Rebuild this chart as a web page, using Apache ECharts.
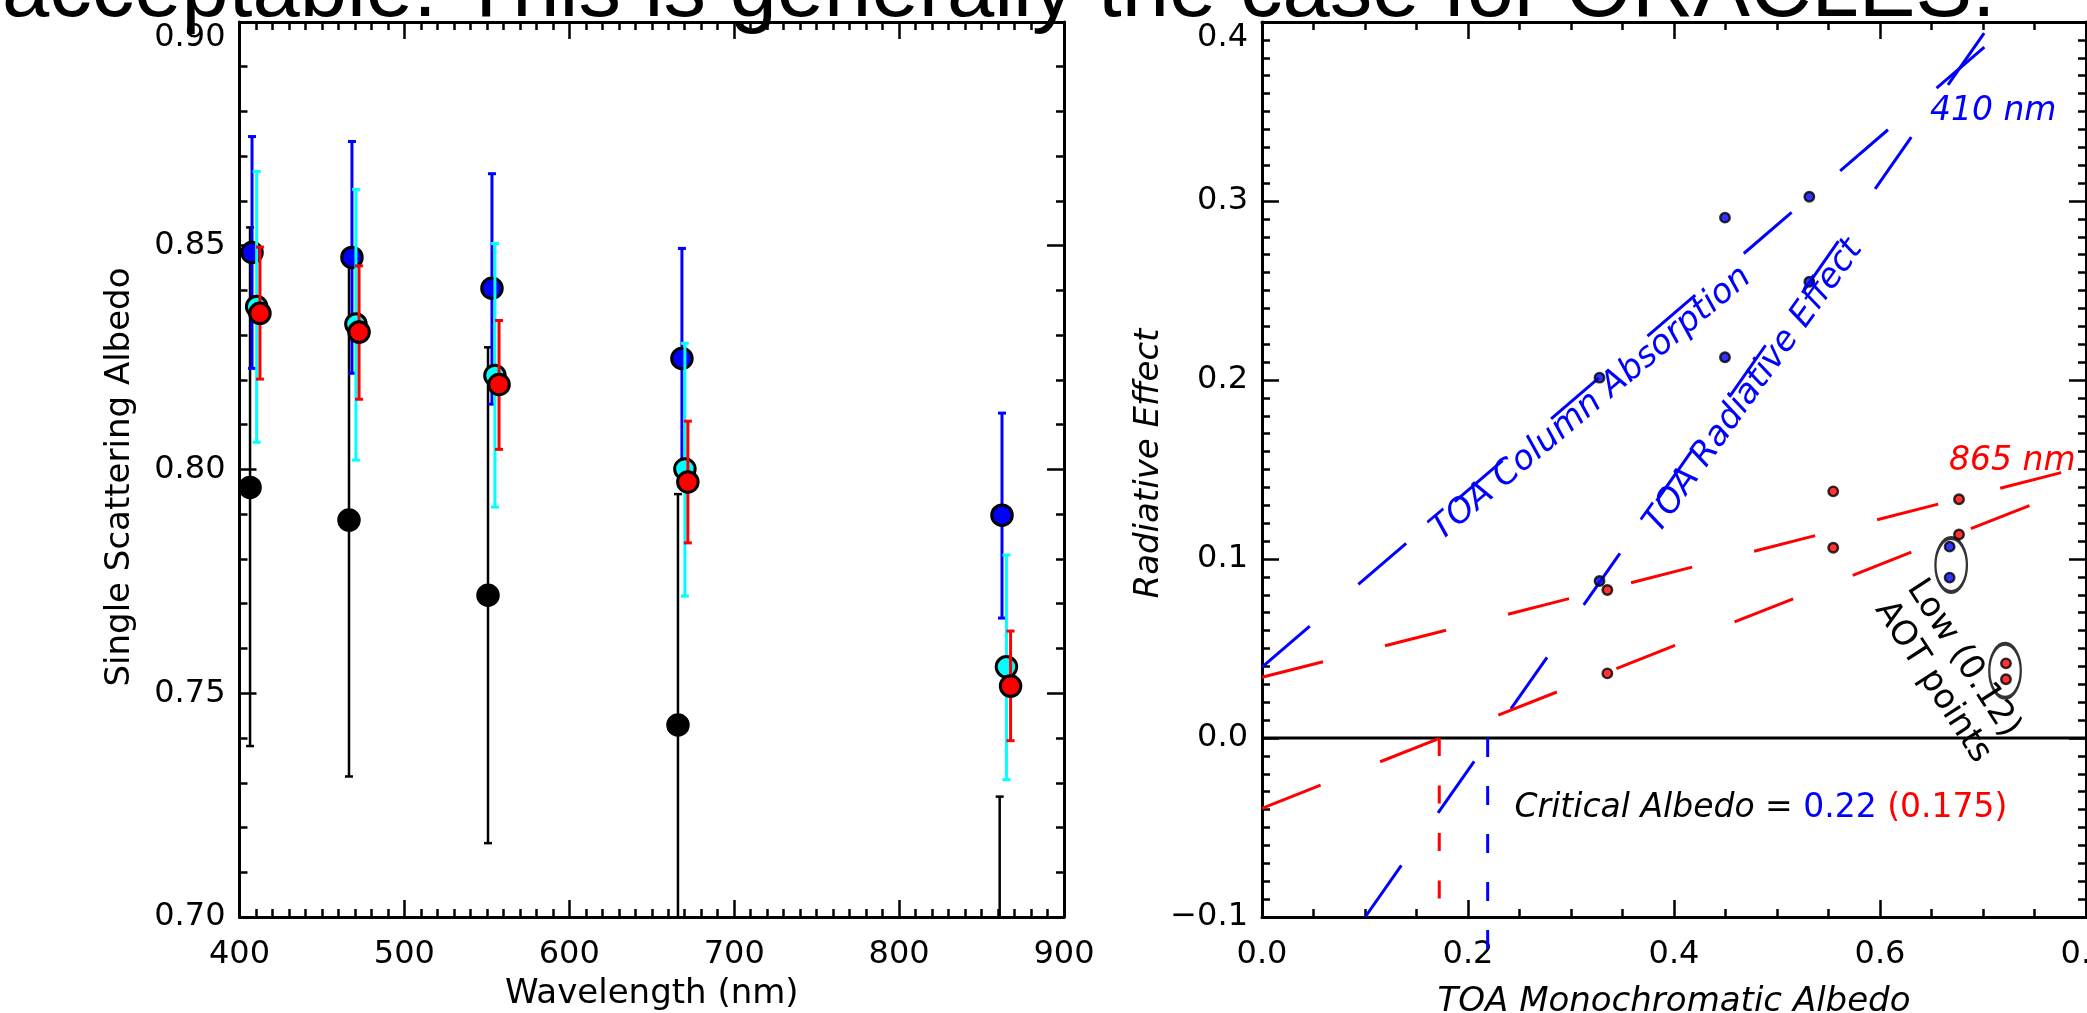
<!DOCTYPE html>
<html><head><meta charset="utf-8">
<script src="https://cdn.jsdelivr.net/npm/echarts@6/dist/echarts.min.js"></script>
<style>html,body{margin:0;padding:0;background:#fff;overflow:hidden}#c{width:2087px;height:1013px}</style>
</head><body><div id="c"></div>
<script>
// ---------- Left panel: single scattering albedo vs wavelength ----------
const wlBlack = [406.4, 466.4, 550.7, 665.9, 861.0];
const wlBlue  = [407.6, 468.2, 553.1, 668.3, 862.4];
const wlCyan  = [410.4, 470.6, 554.9, 670.1, 865.1];
const wlRed   = [412.4, 472.5, 557.4, 671.9, 867.6];
const ssaBlack   = [0.7960, 0.7887, 0.7719, 0.7429, 0.671];
const ssaBlackLo = [0.7382, 0.7314, 0.7165, 0.691, 0.615];
const ssaBlackHi = [0.8541, 0.8460, 0.8273, 0.7945, 0.7269];
const ssaBlue    = [0.8485, 0.8474, 0.8405, 0.8248, 0.7898];
const ssaBlueLo  = [0.8226, 0.8215, 0.8146, 0.8002, 0.7668];
const ssaBlueHi  = [0.8744, 0.8733, 0.8661, 0.8494, 0.8126];
const ssaCyan    = [0.8364, 0.8325, 0.8210, 0.8001, 0.7559];
const ssaCyanLo  = [0.8061, 0.8021, 0.7916, 0.7717, 0.7307];
const ssaCyanHi  = [0.8666, 0.8626, 0.8505, 0.8282, 0.7809];
const ssaRed     = [0.8349, 0.8307, 0.8190, 0.7972, 0.7516];
const ssaRedLo   = [0.8202, 0.8157, 0.8045, 0.7836, 0.7394];
const ssaRedHi   = [0.8497, 0.8455, 0.8333, 0.8108, 0.7639];

// ---------- Right panel: radiative effect vs TOA albedo ----------
const albBlue = [0.3277, 0.4495, 0.4495, 0.5314, 0.5314, 0.3277, 0.6676, 0.6676];
const reBlue  = [0.2013, 0.2907, 0.2127, 0.3024, 0.2549, 0.0877, 0.1069, 0.0896];
const albRed  = [0.3353, 0.3353, 0.5546, 0.5546, 0.6767, 0.6767, 0.7223, 0.7223];
const reRed   = [0.0827, 0.0361, 0.1378, 0.1063, 0.1334, 0.1137, 0.0417, 0.0328];
const fitBlueAbsorption = [[0, 0.0396], [0.7037, 0.3872]];
const fitBlueRadEffect  = [[0.1002, -0.1], [0.7037, 0.3959]];
const fitRedAbsorption  = [[0, 0.0339], [0.8, 0.1518]];
const fitRedRadEffect   = [[0, -0.0393], [0.8, 0.1423]];
const criticalBlue = [[0.2191, 0], [0.2191, -0.1202]];
const criticalRed  = [[0.1721, 0], [0.1721, -0.1]];
const zeroLine = [[0, 0], [0.8, 0]];
const lowAotGroups = [[0.6691, 0.0966], [0.7214, 0.0376]];

const xTicksLeft = [400, 500, 600, 700, 800, 900];
const yTicksLeft = [0.70, 0.75, 0.80, 0.85, 0.90];
const xTicksRight = [0.0, 0.2, 0.4, 0.6, 0.8];
const yTicksRight = [-0.1, 0.0, 0.1, 0.2, 0.3, 0.4];

const FONT = 'DejaVu Sans';
const BLUE = '#0000ff', CYAN = '#00ffff', RED = '#ff0000', BLACK = '#000000';

const chart = echarts.init(document.getElementById('c'), null, {renderer: 'canvas'});

const tickStyle = {color: '#000', width: 2.5};
function mkAxis(kind, grid, pos, ticks, minorSplit, fmt, name, nameGap, nameStyle) {
  const a = {
    gridIndex: grid, type: 'value', position: pos,
    min: ticks[0], max: ticks[ticks.length - 1], interval: ticks[1] - ticks[0],
    axisLine: {show: true, onZero: false, lineStyle: {color: '#000', width: 3}},
    axisTick: {show: true, inside: true, length: 17, lineStyle: tickStyle},
    minorTick: {show: true, splitNumber: minorSplit, length: 8, lineStyle: tickStyle},
    splitLine: {show: false}, minorSplitLine: {show: false},
    axisLabel: {show: false}
  };
  if (fmt) {
    a.axisLabel = {show: true, formatter: fmt, color: '#000', fontSize: 32, fontFamily: FONT,
      margin: kind === 'x' ? 22 : 14, showMinLabel: true, showMaxLabel: true};
    if (kind === 'y') a.axisLabel.verticalAlignMaxLabel = 'top';
  }
  if (name) {
    a.name = name; a.nameLocation = 'middle'; a.nameGap = nameGap;
    a.nameTextStyle = Object.assign({color: '#000', fontSize: 34, fontFamily: FONT}, nameStyle || {});
  }
  return a;
}
const fmt2 = v => v.toFixed(2);
const fmt1 = v => (v < -1e-9 ? '\u2212' + Math.abs(v).toFixed(1) : Math.abs(v).toFixed(1));

function errRender(color, lw, cap) {
  return function (params, api) {
    const x = api.value(0), lo = api.value(1), hi = api.value(2);
    const a = api.coord([x, lo]), b = api.coord([x, hi]);
    const h = cap / 2;
    const st = {stroke: color, lineWidth: lw};
    return {type: 'group', children: [
      {type: 'line', shape: {x1: a[0], y1: a[1], x2: b[0], y2: b[1]}, style: st},
      {type: 'line', shape: {x1: b[0] - h, y1: b[1], x2: b[0] + h, y2: b[1]}, style: st},
      {type: 'line', shape: {x1: a[0] - h, y1: a[1], x2: a[0] + h, y2: a[1]}, style: st}
    ]};
  };
}
function zip3(a, b, c) { return a.map((v, i) => [v, b[i], c[i]]); }
function zip2(a, b) { return a.map((v, i) => [v, b[i]]); }

function errSeries(color, lw, wl, lo, hi, z) {
  return {type: 'custom', xAxisIndex: 0, yAxisIndex: 0, clip: true, z: z,
    renderItem: errRender(color, lw, 8), data: zip3(wl, lo, hi), silent: true};
}
function ptSeries(color, wl, val, z) {
  return {type: 'scatter', xAxisIndex: 0, yAxisIndex: 0, clip: true, z: z,
    symbol: 'circle', symbolSize: 20.5,
    itemStyle: {color: color, borderColor: '#000', borderWidth: 3, opacity: 1},
    data: zip2(wl, val), silent: true};
}
function lineSeries(data, color, dash, width, z) {
  return {type: 'line', xAxisIndex: 2, yAxisIndex: 2, data: data, symbol: 'none', clip: false, z: z,
    lineStyle: {color: color, width: width, type: dash}, silent: true};
}

const option = {
  animation: false,
  backgroundColor: '#fff',
  textStyle: {fontFamily: FONT},
  grid: [
    {left: 239.5, top: 22, width: 824.5, height: 895, containLabel: false, outerBoundsMode: 'none'},
    {left: 1262, top: 22, width: 824, height: 895, containLabel: false, outerBoundsMode: 'none'}
  ],
  xAxis: [
    mkAxis('x', 0, 'bottom', xTicksLeft, 10, v => String(Math.round(v)), 'Wavelength (nm)', 60),
    mkAxis('x', 0, 'top', xTicksLeft, 10, null),
    mkAxis('x', 1, 'bottom', xTicksRight, 4, fmt1, 'TOA Monochromatic Albedo', 68, {fontStyle: 'italic'}),
    mkAxis('x', 1, 'top', xTicksRight, 4, null)
  ],
  yAxis: [
    mkAxis('y', 0, 'left', yTicksLeft, 5, fmt2, 'Single Scattering Albedo', 102, {padding: [0, 15, 0, 0]}),
    mkAxis('y', 0, 'right', yTicksLeft, 5, null),
    mkAxis('y', 1, 'left', yTicksRight, 10, fmt1, 'Radiative Effect', 69, {fontStyle: 'italic', padding: [0, 0, 0, 12]}),
    mkAxis('y', 1, 'right', yTicksRight, 10, null)
  ],
  series: [
    errSeries(BLACK, 2.5, wlBlack, ssaBlackLo, ssaBlackHi, 2),
    ptSeries(BLACK, wlBlack, ssaBlack, 3),
    errSeries(BLUE, 3, wlBlue, ssaBlueLo, ssaBlueHi, 4),
    ptSeries(BLUE, wlBlue, ssaBlue, 5),
    errSeries(CYAN, 3, wlCyan, ssaCyanLo, ssaCyanHi, 6),
    ptSeries(CYAN, wlCyan, ssaCyan, 7),
    errSeries(RED, 3, wlRed, ssaRedLo, ssaRedHi, 8),
    ptSeries(RED, wlRed, ssaRed, 9),

    lineSeries(zeroLine, BLACK, 'solid', 3.2, 2),
    lineSeries(fitBlueAbsorption, BLUE, [63, 64], 3, 3),
    lineSeries(fitBlueRadEffect, BLUE, [63, 64], 3, 3),
    lineSeries(fitRedAbsorption, RED, [63, 64], 3, 3),
    lineSeries(fitRedRadEffect, RED, [63, 64], 3, 3),
    lineSeries(criticalBlue, BLUE, [19, 29], 3, 3),
    lineSeries(criticalRed, RED, [18, 29.5], 3, 3),
    {type: 'scatter', xAxisIndex: 2, yAxisIndex: 2, z: 4, symbol: 'circle', symbolSize: [31.5, 54],
      itemStyle: {color: 'rgba(0,0,0,0)', borderColor: '#000', borderWidth: 3}, data: lowAotGroups, silent: true},
    {type: 'scatter', xAxisIndex: 2, yAxisIndex: 2, z: 5, symbol: 'circle', symbolSize: 9.5,
      itemStyle: {color: BLUE, borderColor: '#000', borderWidth: 2.4}, data: zip2(albBlue, reBlue), silent: true},
    {type: 'scatter', xAxisIndex: 2, yAxisIndex: 2, z: 5, symbol: 'circle', symbolSize: 9.5,
      itemStyle: {color: RED, borderColor: '#000', borderWidth: 2.4}, data: zip2(albRed, reRed), silent: true}
  ]
};
chart.setOption(option);

// ---------- annotations (anchored at data coordinates, baseline-left) ----------
function annot(dx, dy, text, rotDeg, size, style) {
  const p = chart.convertToPixel({gridIndex: 1}, [dx, dy]);
  const th = rotDeg * Math.PI / 180;
  const off = 0.346 * size;
  return {
    type: 'text', x: p[0] - Math.sin(th) * off, y: p[1] - Math.cos(th) * off, rotation: th, z: 50,
    style: Object.assign({text: text, fontSize: size, fontFamily: FONT, fill: '#000',
      align: 'left', verticalAlign: 'middle'}, style || {})
  };
}
const graphics = [
  annot(0.6485, 0.3436, '410 nm', 0, 33, {fill: BLUE, fontStyle: 'italic'}),
  annot(0.6670, 0.1480, '865 nm', 0, 33, {fill: RED, fontStyle: 'italic'}),
  annot(0.1757, 0.1087, 'TOA Column Absorption', 40, 34, {fill: BLUE, fontStyle: 'italic'}),
  annot(0.3874, 0.1127, 'TOA Radiative Effect', 54.5, 34, {fill: BLUE, fontStyle: 'italic'}),
  annot(0.2452, -0.0458, '{a|Critical Albedo} = {b|0.22} {c|(0.175)}', 0, 33, {
    rich: {
      a: {fontStyle: 'italic', fontSize: 33, fontFamily: FONT, fill: '#000'},
      b: {fontSize: 33, fontFamily: FONT, fill: BLUE},
      c: {fontSize: 33, fontFamily: FONT, fill: RED}
    }
  }),
  annot(0.6235, 0.0830, 'Low (0.12)', -57, 34, {}),
  annot(0.5925, 0.0712, 'AOT points', -57, 34, {}),
  {type: 'text', x: 2, y: 22 - 0.3465 * 85, z: 100,
    style: {text: 'acceptable. This is generally the case for ORACLES.', fontSize: 85,
      fontFamily: 'Liberation Sans', fill: '#000', align: 'left', verticalAlign: 'middle'}}
];
chart.setOption({graphic: graphics});
</script></body></html>
